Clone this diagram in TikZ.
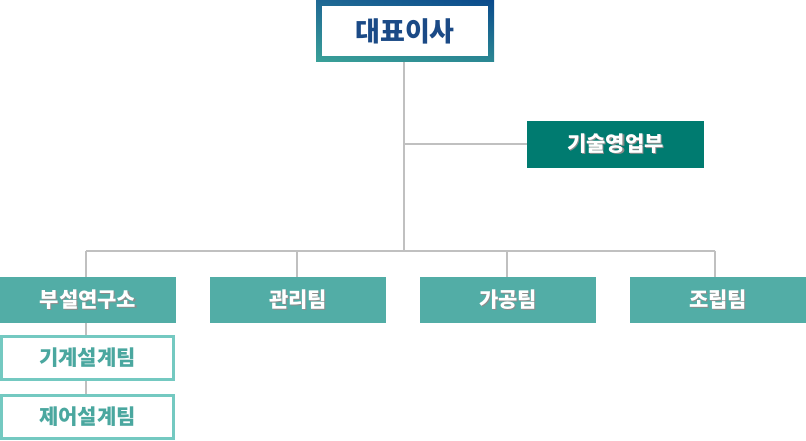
\documentclass[tikz,border=0pt]{standalone}
\usepackage{fontspec}
\usetikzlibrary{shadings}
\newfontfamily\kr{Noto Sans CJK KR}
\definecolor{linegray}{HTML}{C0C0C0}
\definecolor{teamfill}{HTML}{52ADA6}
\definecolor{salesfill}{HTML}{007B70}
\definecolor{subborder}{HTML}{74C9C1}
\definecolor{subtext}{HTML}{4AA79F}
\definecolor{ceotext}{HTML}{1B4A86}
\definecolor{gTL}{HTML}{1F6894}
\definecolor{gTR}{HTML}{0A4A8C}
\definecolor{gBL}{HTML}{3AA198}
\definecolor{gBR}{HTML}{2B8893}
\newcommand\shadowed[1]{\leavevmode\rlap{\kern1.2pt\raisebox{-1.2pt}{\textcolor{black!45}{#1}}}#1}
\begin{document}
\begin{tikzpicture}[x=1pt,y=-1pt,
  conn/.style={draw=linegray,line width=2pt},
  solidbox/.style={fill=#1,text=white,minimum width=176pt,minimum height=46pt,inner sep=0pt,font=\kr\bfseries\fontsize{21}{24}\selectfont},
  subbox/.style={draw=subborder,line width=3pt,fill=white,text=subtext,minimum width=172pt,minimum height=43pt,inner sep=0pt,font=\kr\bfseries\fontsize{21}{24}\selectfont}]
\useasboundingbox (0,0) rectangle (806,441);
% CEO box with gradient border
\shade[upper left=gTL,upper right=gTR,lower left=gBL,lower right=gBR] (316,0) rectangle (494,62);
\node[fill=white,minimum width=166pt,minimum height=50pt,inner sep=0pt,text=ceotext,font=\kr\bfseries\fontsize{27}{30}\selectfont] (ceo) at (405,31) {대표이사};
\coordinate (ceob) at (404,62);
% other nodes
\node[solidbox=salesfill,minimum width=177pt,minimum height=47pt] (sales) at (615.5,144.5) {\shadowed{기술영업부}};
\node[solidbox=teamfill] (lab) at (88,300) {\shadowed{부설연구소}};
\node[solidbox=teamfill] (mgmt) at (298,300) {\shadowed{관리팀}};
\node[solidbox=teamfill] (proc) at (508,300) {\shadowed{가공팀}};
\node[solidbox=teamfill] (asm) at (718,300) {\shadowed{조립팀}};
\node[subbox] (mech) at (87.5,358) {기계설계팀};
\node[subbox] (ctrl) at (87.5,417) {제어설계팀};
% connectors
\coordinate (j1) at (404,144.5);
\coordinate (bus) at (404,250.5);
\coordinate (bl) at (86,250.5);
\coordinate (b2) at (297,250.5);
\coordinate (b3) at (507,250.5);
\coordinate (br) at (715,250.5);
\draw[conn] (ceob) -- (bus);
\draw[conn] (j1) -- (sales.west);
\draw[conn] (bl) -- (br);
\draw[conn] (bl) -- (bl |- lab.north);
\draw[conn] (b2) -- (b2 |- mgmt.north);
\draw[conn] (b3) -- (b3 |- proc.north);
\draw[conn] (br) -- (br |- asm.north);
\draw[conn] (lab.south -| bl) -- (bl |- mech.north);
\draw[conn] (mech.south -| bl) -- (bl |- ctrl.north);
\end{tikzpicture}
\end{document}
